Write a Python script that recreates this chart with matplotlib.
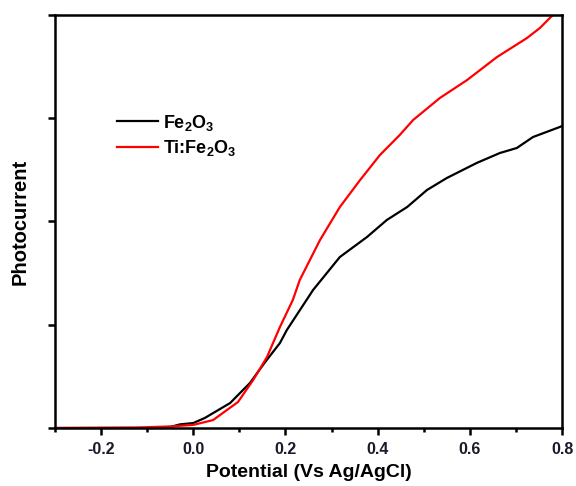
import matplotlib
matplotlib.use("Agg")
import matplotlib.pyplot as plt
from matplotlib.ticker import MultipleLocator, NullFormatter

plt.rcParams['font.family'] = ['Liberation Sans', 'DejaVu Sans']
plt.rcParams['mathtext.fontset'] = 'custom'
plt.rcParams['mathtext.rm'] = 'Liberation Sans:bold'
plt.rcParams['mathtext.default'] = 'rm'

# Data (y in arbitrary units)
fe_x = [-0.30, -0.094, -0.05, -0.029, 0.0, 0.025, 0.080, 0.123, 0.156, 0.188, 0.203, 0.260,
        0.318, 0.377, 0.420, 0.464, 0.507, 0.550, 0.615, 0.665, 0.702, 0.737, 0.795, 0.800]
fe_y = [0.0, 0.0, 0.01, 0.035, 0.048, 0.097, 0.242, 0.436, 0.639, 0.823, 0.949, 1.337,
        1.656, 1.850, 2.015, 2.140, 2.305, 2.421, 2.567, 2.663, 2.712, 2.818, 2.915, 2.925]

ti_x = [-0.30, -0.12, -0.05, 0.0, 0.043, 0.097, 0.130, 0.160, 0.188, 0.216, 0.231, 0.275,
        0.318, 0.362, 0.405, 0.448, 0.477, 0.535, 0.594, 0.659, 0.724, 0.752, 0.780, 0.800]
ti_y = [0.0, 0.005, 0.015, 0.03, 0.077, 0.252, 0.465, 0.688, 0.978, 1.240, 1.433, 1.821,
        2.140, 2.402, 2.644, 2.838, 2.983, 3.196, 3.370, 3.593, 3.777, 3.874, 4.0, 4.08]

labels = ['Fe$_2$O$_3$', 'Ti:Fe$_2$O$_3$']
x_ticks = [-0.2, 0.0, 0.2, 0.4, 0.6, 0.8]
x_tick_labels = ['-0.2', '0.0', '0.2', '0.4', '0.6', '0.8']

fig = plt.figure(figsize=(5.76, 4.86), dpi=100)
ax = fig.add_axes([55/576, 58/486, 507/576, 413/486])

ax.plot(fe_x, fe_y, color='black', lw=1.6, label=labels[0])
ax.plot(ti_x, ti_y, color='#ff0000', lw=1.6, label=labels[1])

ax.set_xlim(-0.3, 0.8)
ax.set_ylim(0, 4)

ax.set_xticks(x_ticks)
ax.set_xticklabels(x_tick_labels)
ax.xaxis.set_minor_locator(MultipleLocator(0.1))
ax.set_yticks([0, 1, 2, 3, 4])
ax.yaxis.set_major_formatter(NullFormatter())

for s in ax.spines.values():
    s.set_linewidth(1.8)

ax.tick_params(axis='x', which='major', direction='out', length=5, width=1.8,
               labelsize=11.5, pad=5)
ax.tick_params(axis='x', which='minor', direction='out', length=3, width=1.8)
ax.tick_params(axis='y', which='major', direction='out', length=5, width=1.8)
for lab in ax.get_xticklabels():
    lab.set_fontweight('bold')
    lab.set_color('#1a1a2a')

ax.set_xlabel('Potential (Vs Ag/AgCl)', fontsize=14, fontweight='bold', labelpad=5)
ax.set_ylabel('Photocurrent', fontsize=14.5, fontweight='bold', labelpad=10)

leg = ax.legend(loc='upper left', bbox_to_anchor=(0.09, 0.803), frameon=False,
                handlelength=2.3, handletextpad=0.25, labelspacing=0.3,
                prop={'size': 13, 'weight': 'bold'})
for line in leg.get_lines():
    line.set_linewidth(1.6)

fig.savefig('out.png', dpi=100)
